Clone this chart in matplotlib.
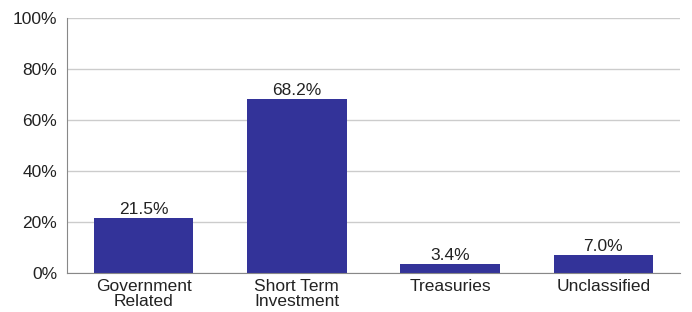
import matplotlib
matplotlib.use("Agg")
import matplotlib.pyplot as plt
from matplotlib.ticker import FuncFormatter

categories = ["Government\nRelated", "Short Term\nInvestment", "Treasuries", "Unclassified"]
values = [21.5, 68.2, 3.4, 7.0]
yticks = [0, 20, 40, 60, 80, 100]

plt.rcParams['font.family'] = ['Liberation Sans', 'DejaVu Sans']

fig = plt.figure(figsize=(6.92, 3.12), dpi=100)
ax = fig.add_axes([67 / 692, 1 - 273 / 312, (680 - 67) / 692, (273 - 18) / 312])

x = range(len(categories))
bars = ax.bar(x, values, width=0.65, color="#333399", zorder=3)
for b, v in zip(bars, values):
    ax.text(b.get_x() + b.get_width() / 2, v + 0.6, f"{v:.1f}%", ha="center", va="bottom",
            fontsize=12.5, color="#222222")

ax.set_xlim(-0.5, len(categories) - 0.5)
ax.set_ylim(0, 100)
ax.set_yticks(yticks)
ax.yaxis.set_major_formatter(FuncFormatter(lambda v, p: f"{v:.0f}%"))
ax.set_xticks(list(x))
ax.set_xticklabels(categories, linespacing=1.0)
ax.tick_params(axis="both", length=0, labelsize=12.5, colors="#222222")
ax.tick_params(axis="x", pad=4)
ax.tick_params(axis="y", pad=7)
ax.grid(axis="y", color="#cccccc", linewidth=1, zorder=0)
for s in ["top", "right"]:
    ax.spines[s].set_visible(False)
for s in ["left", "bottom"]:
    ax.spines[s].set_color("#888888")
    ax.spines[s].set_zorder(4)

fig.savefig("out.png", dpi=100)
